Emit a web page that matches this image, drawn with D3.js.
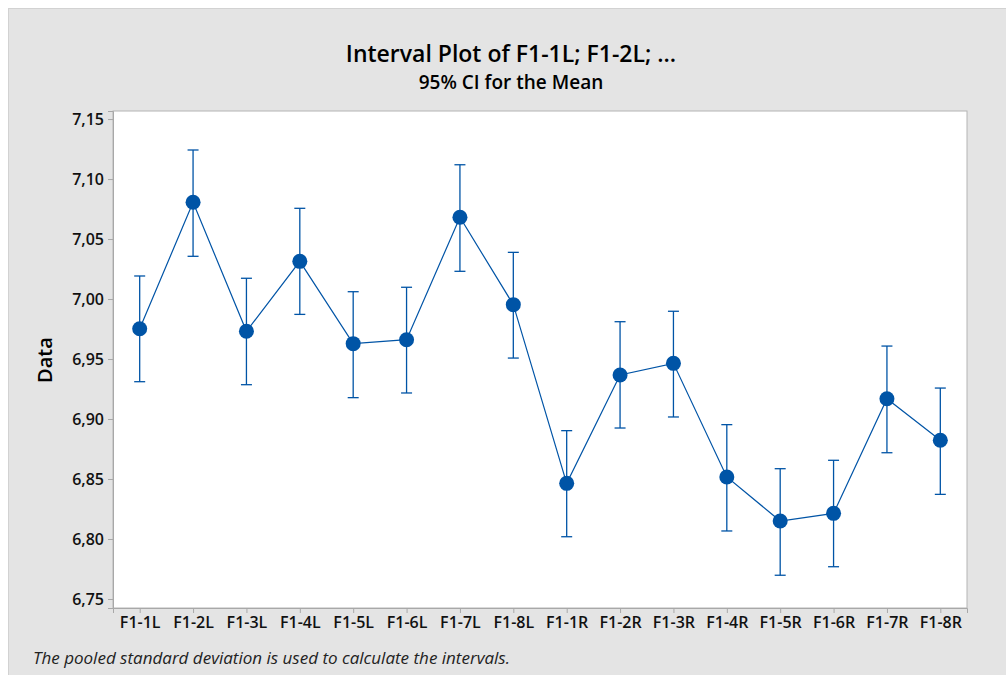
<!DOCTYPE html>
<meta charset="utf-8">
<script src="https://d3js.org/d3.v7.min.js"></script>
<style>
  body { margin: 0; background: #fff; }
  text { font-family: "Open Sans", "Noto Sans", sans-serif; }
</style>
<div id="my_dataviz"></div>
<script>

// data
var groups = ["F1-1L", "F1-2L", "F1-3L", "F1-4L", "F1-5L", "F1-6L", "F1-7L", "F1-8L",
              "F1-1R", "F1-2R", "F1-3R", "F1-4R", "F1-5R", "F1-6R", "F1-7R", "F1-8R"];
var means = [6.9752, 7.0806, 6.9731, 7.0314, 6.9628, 6.9661, 7.0681, 6.9953,
             6.8464, 6.9367, 6.9464, 6.8517, 6.8150, 6.8214, 6.9169, 6.8823];
var upper = [7.0192, 7.1242, 7.0173, 7.0756, 7.0061, 7.0098, 7.1119, 7.0389,
             6.8903, 6.9811, 6.9898, 6.8953, 6.8586, 6.8656, 6.9608, 6.9258];
var lower = [6.9311, 7.0356, 6.9286, 6.9872, 6.9178, 6.9217, 7.0231, 6.9508,
             6.8019, 6.8925, 6.9017, 6.8067, 6.7698, 6.7769, 6.8719, 6.8372];
var yTicks = [6.75, 6.80, 6.85, 6.90, 6.95, 7.00, 7.05, 7.10, 7.15];

var W = 1006, H = 675;
var margin = {top: 111, right: 39, bottom: 67, left: 113},
    width = W - margin.left - margin.right,
    height = H - margin.top - margin.bottom;

var blue = "#0054a6";

var root = d3.select("#my_dataviz")
  .append("svg")
    .attr("width", W)
    .attr("height", H);

// gray panel behind everything
root.append("rect")
  .attr("x", 8.5).attr("y", 8.5)
  .attr("width", W).attr("height", H)
  .style("fill", "#e4e4e4")
  .style("stroke", "#d2d2d2");

// titles
root.append("text")
  .attr("x", 511).attr("y", 62)
  .attr("text-anchor", "middle")
  .style("font-size", "23px").style("font-weight", 600)
  .text("Interval Plot of F1-1L; F1-2L; ...");
root.append("text")
  .attr("x", 511).attr("y", 89)
  .attr("text-anchor", "middle")
  .style("font-size", "19px").style("font-weight", 600)
  .text("95% CI for the Mean");

var svg = root.append("g")
  .attr("transform", "translate(" + margin.left + "," + margin.top + ")");

svg.append("rect")
  .attr("width", width).attr("height", height)
  .style("fill", "#fff")
  .style("stroke", "#b4b4b4");

var x = d3.scalePoint()
  .domain(groups)
  .range([0, width])
  .padding(0.5);

var y = d3.scaleLinear()
  .domain([6.7425, 7.1567])
  .range([height, 0]);

// axes
var xAxis = svg.append("g")
  .attr("transform", "translate(0," + height + ")")
  .call(d3.axisBottom(x).tickSize(5).tickPadding(4));
var yAxis = svg.append("g")
  .call(d3.axisLeft(y).tickValues(yTicks).tickSize(5).tickPadding(4)
    .tickFormat(function(d) { return d3.format(".2f")(d).replace(".", ","); }));

[xAxis, yAxis].forEach(function(a) {
  a.select(".domain").style("stroke", "#a8a8a8");
  a.selectAll(".tick line").style("stroke", "#a8a8a8");
  a.selectAll(".tick text")
    .style("font-family", "'Open Sans', sans-serif")
    .style("font-size", "16px")
    .style("font-weight", 600)
    .style("fill", "#111");
});

// y label
root.append("text")
  .attr("transform", "translate(52,360) rotate(-90)")
  .attr("text-anchor", "middle")
  .style("font-size", "20px").style("font-weight", 600)
  .text("Data");

// error bars
var idx = d3.range(groups.length);
svg.selectAll("myBars")
  .data(idx)
  .enter()
  .append("line")
    .attr("x1", function(i) { return x(groups[i]); })
    .attr("x2", function(i) { return x(groups[i]); })
    .attr("y1", function(i) { return y(lower[i]); })
    .attr("y2", function(i) { return y(upper[i]); })
    .style("stroke", blue).style("stroke-width", 1.3);

svg.selectAll("myCaps")
  .data(idx.map(function(i) { return {i: i, v: upper[i]}; })
    .concat(idx.map(function(i) { return {i: i, v: lower[i]}; })))
  .enter()
  .append("line")
    .attr("x1", function(d) { return x(groups[d.i]) - 5.5; })
    .attr("x2", function(d) { return x(groups[d.i]) + 5.5; })
    .attr("y1", function(d) { return y(d.v); })
    .attr("y2", function(d) { return y(d.v); })
    .style("stroke", blue).style("stroke-width", 1.3);

// connecting line
var line = d3.line()
  .x(function(i) { return x(groups[i]); })
  .y(function(i) { return y(means[i]); });
svg.append("path")
  .attr("d", line(idx))
  .style("fill", "none")
  .style("stroke", blue)
  .style("stroke-width", 1.2);

// points
svg.selectAll("myDots")
  .data(idx)
  .enter()
  .append("circle")
    .attr("cx", function(i) { return x(groups[i]); })
    .attr("cy", function(i) { return y(means[i]); })
    .attr("r", 7.5)
    .style("fill", blue);

// footnote
root.append("text")
  .attr("x", 33).attr("y", 664)
  .style("font-size", "17px").style("font-style", "italic")
  .style("fill", "#222")
  .text("The pooled standard deviation is used to calculate the intervals.");

</script>
